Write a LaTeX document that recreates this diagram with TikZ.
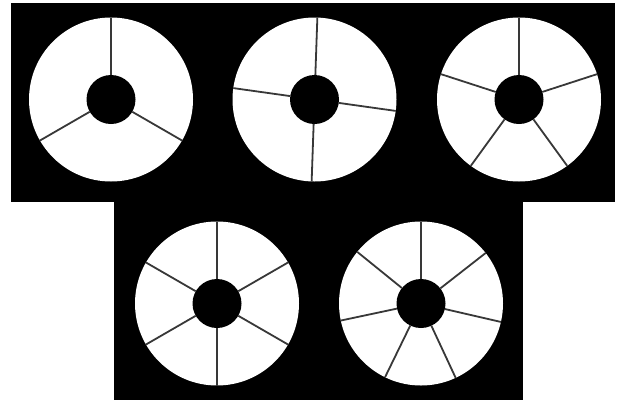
\documentclass[tikz,border=0pt]{standalone}
\usepackage{tikz}

\begin{document}
\begin{tikzpicture}[x=1pt,y=-1pt,
    rim/.style={circle,fill=white,minimum size=164pt,inner sep=0pt,outer sep=0pt},
    hub/.style={circle,fill=black,minimum size=49pt,inner sep=0pt,outer sep=0pt},
    spoke/.style={draw=black!78,line width=1.8pt}]
\useasboundingbox (0,0) rectangle (622,400);
\fill[black] (11,3) rectangle (615,202);
\fill[black] (114,202) rectangle (522.5,400);
% top row
\node[rim] (w1) at (111,99.5) {};
\node[hub] (h1) at (111,99.5) {};
\foreach \a in {90,210,330}
  \draw[spoke] (h1.\a) -- (w1.\a);
\node[rim] (w2) at (314.5,99.5) {};
\node[hub] (h2) at (314.5,99.5) {};
\foreach \a in {88,172,268,352}
  \draw[spoke] (h2.\a) -- (w2.\a);
\node[rim] (w3) at (519,99.5) {};
\node[hub] (h3) at (519,99.5) {};
\foreach \i in {0,...,4}
  \draw[spoke] (h3.90+72*\i) -- (w3.90+72*\i);
% bottom row
\node[rim] (w4) at (217,303.5) {};
\node[hub] (h4) at (217,303.5) {};
\foreach \i in {0,...,5}
  \draw[spoke] (h4.90+60*\i) -- (w4.90+60*\i);
\node[rim] (w5) at (421,303.5) {};
\node[hub] (h5) at (421,303.5) {};
\foreach \i in {0,...,6}
  \draw[spoke] (h5.{90+360/7*\i}) -- (w5.{90+360/7*\i});
\end{tikzpicture}
\end{document}
